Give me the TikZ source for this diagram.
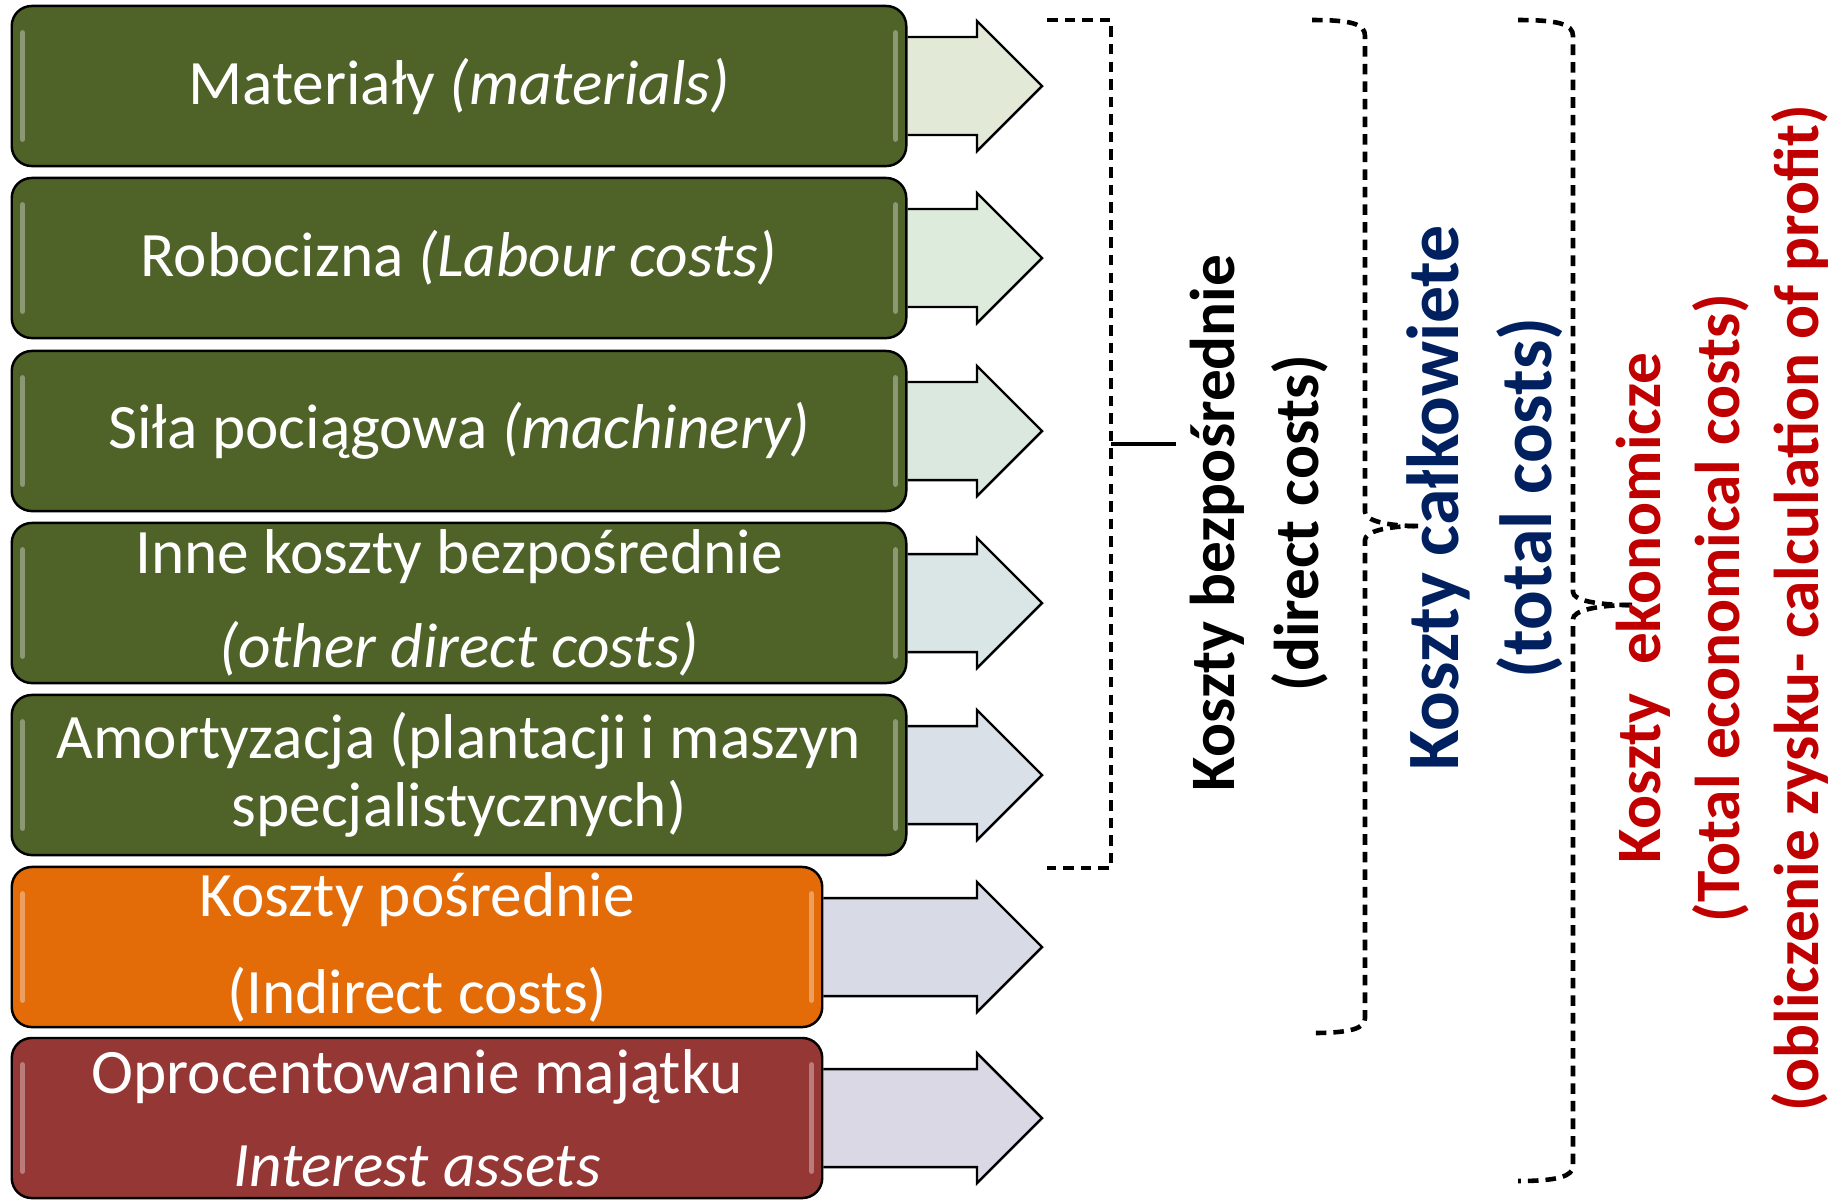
\documentclass[tikz,border=0pt]{standalone}
\usepackage{fontspec}
\setmainfont{Carlito}
\usetikzlibrary{calc,backgrounds}

\definecolor{boxgreen}{HTML}{4F6228}
\definecolor{boxorange}{HTML}{E36C09}
\definecolor{boxred}{HTML}{953735}
\definecolor{labelnavy}{HTML}{002060}
\definecolor{labelred}{HTML}{C00000}
\definecolor{arrA}{HTML}{E2E9D6}
\definecolor{arrB}{HTML}{DCEBDB}
\definecolor{arrC}{HTML}{DAE8E0}
\definecolor{arrD}{HTML}{D9E6E5}
\definecolor{arrE}{HTML}{D9E0E7}
\definecolor{arrF}{HTML}{D8DAE5}
\definecolor{arrG}{HTML}{DAD8E5}

\tikzset{
  costbox/.style={draw=black, line width=0.7pt, rounded corners=0.2cm, text=white, align=center,
    minimum height=1.6cm, inner sep=0pt},
  arrowbody/.style={draw=black, line width=0.7pt, line join=miter},
  bracket/.style={line width=1.3pt, dash pattern=on 3pt off 2pt},
  gloss/.style={white, opacity=0.35, line width=1.5pt, line cap=round},
  sidelabel/.style={rotate=90, align=center},
}

\begin{document}
\begin{tikzpicture}[x=0.01cm, y=-0.01cm]
    \useasboundingbox (0,0) rectangle (1834,1199);
    \clip (0,0) rectangle (1834,1199);
    % cost boxes
    \node[costbox, fill=boxgreen, minimum width=8.94cm, font=\fontsize{18}{22}\selectfont] (mat) at (459,86) {Materiały \textit{(materials)}};
    \node[costbox, fill=boxgreen, minimum width=8.94cm, font=\fontsize{18}{22}\selectfont] (lab) at (459,258) {Robocizna \textit{(Labour costs)}};
    \node[costbox, fill=boxgreen, minimum width=8.94cm, font=\fontsize{18}{22}\selectfont] (mach) at (459,431) {Siła pociągowa \textit{(machinery)}};
    \node[costbox, fill=boxgreen, minimum width=8.94cm, font=\fontsize{18}{26.7}\selectfont] (other) at (459,603) {Inne koszty bezpośrednie\\\textit{(other direct costs)}};
    \node[costbox, fill=boxgreen, minimum width=8.94cm, font=\fontsize{18}{19.3}\selectfont] (amort) at (459,775) {Amortyzacja (plantacji i maszyn\\specjalistycznych)};
    \node[costbox, fill=boxorange, minimum width=8.10cm, font=\fontsize{18}{27.6}\selectfont] (indir) at (417,947) {Koszty pośrednie\\(Indirect costs)};
    \node[costbox, fill=boxred, minimum width=8.10cm, font=\fontsize{18}{26.5}\selectfont] (inter) at (417,1118) {Oprocentowanie majątku\\\textit{Interest assets}};
    % glossy edges
    \foreach \b in {mat, lab, mach, other, amort, indir, inter}{
        \draw[gloss] ($(\b.north west)+(12,28)$) -- ($(\b.south west)+(12,-28)$);
        \draw[gloss] ($(\b.north east)+(-12,28)$) -- ($(\b.south east)+(-12,-28)$);
    }
    % block arrows
    \coordinate (hb) at (977,0);
    \coordinate (tip) at (1042,0);
    \begin{scope}[on background layer]
    \foreach \b/\c in {mat/arrA, lab/arrB, mach/arrC, other/arrD, amort/arrE, indir/arrF, inter/arrG}
        \filldraw[arrowbody, fill=\c] ($(\b.east)+(0,-49)$) -| ($(hb|-\b.east)+(0,-65)$) -- (tip|-\b.east)
            -- ($(hb|-\b.east)+(0,65)$) |- ($(\b.east)+(0,49)$);
    \end{scope}
    % brackets
    \draw[bracket] (1047,20) -- (1111,20) -- (1111,868) -- (1047,868);
    \draw[line width=1.3pt] (1111,444) -- (1176,444);
    \draw[bracket] (1312,20) .. controls (1352,20) and (1365,24) .. (1365,36) -- (1365,512) .. controls (1365,520) and (1385,526) .. (1418,526);
    \draw[bracket] (1418,526) .. controls (1385,526) and (1365,532) .. (1365,540) -- (1365,1018) .. controls (1365,1028) and (1352,1033) .. (1312,1033);
    \draw[bracket] (1518,20) .. controls (1558,20) and (1573,24) .. (1573,36) -- (1573,592) .. controls (1573,600) and (1595,605) .. (1632,605);
    \draw[bracket] (1632,605) .. controls (1595,605) and (1573,611) .. (1573,619) -- (1573,1166) .. controls (1573,1176) and (1558,1181) .. (1518,1181);
    % side labels
    \node[sidelabel, font=\bfseries\fontsize{18}{24}\selectfont] (direct) at (1259,523) {Koszty bezpośrednie\\(direct costs)};
    \node[sidelabel, text=labelnavy, font=\bfseries\fontsize{21}{26.5}\selectfont] (total) at (1485,498) {Koszty całkowiete\\(total costs)};
    \node[sidelabel, text=labelred, font=\bfseries\fontsize{18}{22.5}\selectfont] (econ) at (1722,608) {Koszty\ \ ekonomicze\\(Total economical costs)\\(obliczenie zysku- calculation of profit)};
\end{tikzpicture}
\end{document}
